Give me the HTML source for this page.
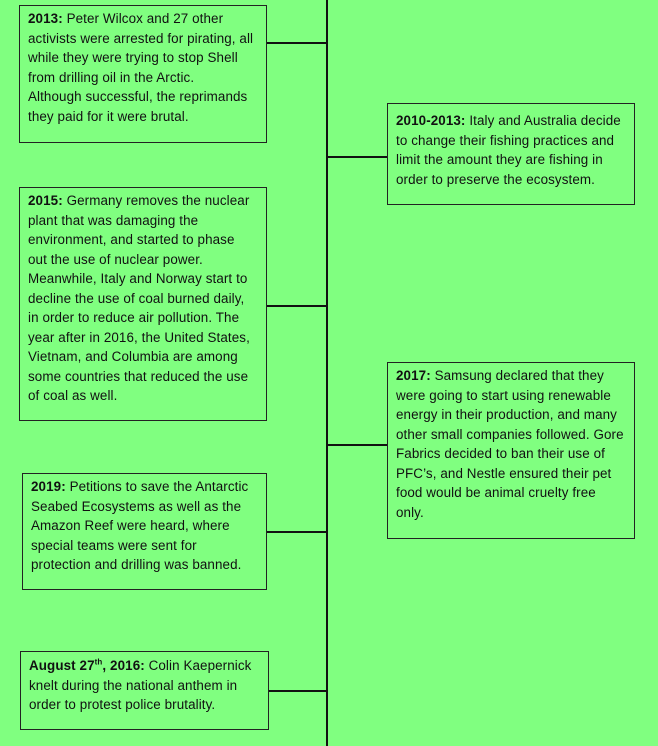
<!DOCTYPE html>
<html><head><style>
html,body{margin:0;padding:0}
body{width:658px;height:746px;background:#80ff80;position:relative;overflow:hidden;font-family:"Liberation Sans",sans-serif;font-size:13.4px;color:#111}
.b{position:absolute;border:1px solid #222;box-sizing:border-box;padding:3px 0 0 8px;line-height:19.5px;white-space:nowrap;letter-spacing:0.1px}
.h{position:absolute;height:2px;background:#111}
.v{position:absolute;left:326px;top:0;width:2px;height:746px;background:#111}
</style></head><body>
<div class="v"></div>
<div class="h" style="left:266px;width:61px;top:42px"></div>
<div class="h" style="left:327px;width:60px;top:156px"></div>
<div class="h" style="left:266px;width:61px;top:305px"></div>
<div class="h" style="left:327px;width:60px;top:444px"></div>
<div class="h" style="left:266px;width:61px;top:531px"></div>
<div class="h" style="left:268px;width:59px;top:690px"></div>

<div class="b" style="left:19px;top:5px;width:248px;height:138px"><b>2013:</b> Peter Wilcox and 27 other<br>activists were arrested for pirating, all<br>while they were trying to stop Shell<br>from drilling oil in the Arctic.<br>Although successful, the reprimands<br>they paid for it were brutal.</div>

<div class="b" style="left:387px;top:103px;width:248px;height:102px;padding-top:7px"><b>2010-2013:</b> Italy and Australia decide<br>to change their fishing practices and<br>limit the amount they are fishing in<br>order to preserve the ecosystem.</div>

<div class="b" style="left:19px;top:187px;width:248px;height:234px"><b>2015:</b> Germany removes the nuclear<br>plant that was damaging the<br>environment, and started to phase<br>out the use of nuclear power.<br>Meanwhile, Italy and Norway start to<br>decline the use of coal burned daily,<br>in order to reduce air pollution. The<br>year after in 2016, the United States,<br>Vietnam, and Columbia are among<br>some countries that reduced the use<br>of coal as well.</div>

<div class="b" style="left:387px;top:362px;width:248px;height:177px"><b>2017:</b> Samsung declared that they<br>were going to start using renewable<br>energy in their production, and many<br>other small companies followed. Gore<br>Fabrics decided to ban their use of<br>PFC’s, and Nestle ensured their pet<br>food would be animal cruelty free<br>only.</div>

<div class="b" style="left:22px;top:473px;width:245px;height:117px"><b>2019:</b> Petitions to save the Antarctic<br>Seabed Ecosystems as well as the<br>Amazon Reef were heard, where<br>special teams were sent for<br>protection and drilling was banned.</div>

<div class="b" style="left:20px;top:651px;width:249px;height:79px;padding-top:4px"><b>August 27<sup style="font-size:8px;line-height:0">th</sup>, 2016:</b> Colin Kaepernick<br>knelt during the national anthem in<br>order to protest police brutality.</div>
</body></html>
